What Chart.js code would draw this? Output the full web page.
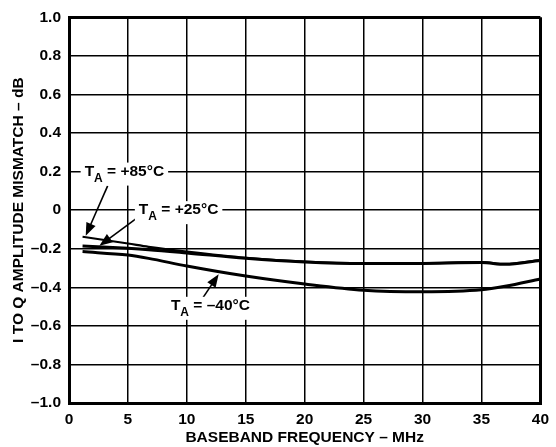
<!DOCTYPE html>
<html>
<head>
<meta charset="utf-8">
<script src="https://cdn.jsdelivr.net/npm/chart.js@4.4.0/dist/chart.umd.min.js"></script>
<style>
  html, body { margin: 0; padding: 0; background: #fff; }
  #wrap { width: 556px; height: 447px; }
</style>
</head>
<body>
<div id="wrap"><canvas id="chart" width="556" height="447"></canvas></div>
<script>
// frequency points (MHz)
const freq = [1.15, 5, 6.75, 10, 15, 20, 25, 30, 35, 37, 40];
// mismatch in dB for each temperature
const t85 = [-0.138, -0.173, -0.19, -0.215, -0.247, -0.267, -0.275, -0.275, -0.27, -0.279, -0.259];
const t25 = [-0.186, -0.198, -0.205, -0.222, -0.25, -0.269, -0.277, -0.276, -0.272, -0.281, -0.261];
const tm40 = [-0.215, -0.233, -0.25, -0.29, -0.342, -0.383, -0.415, -0.423, -0.413, -0.395, -0.357];

const xTicks = [0, 5, 10, 15, 20, 25, 30, 35, 40];
const yTicks = [-1.0, -0.8, -0.6, -0.4, -0.2, 0, 0.2, 0.4, 0.6, 0.8, 1.0];
const yTickLabels = ['\u20131.0', '\u20130.8', '\u20130.6', '\u20130.4', '\u20130.2', '0', '0.2', '0.4', '0.6', '0.8', '1.0'];

// annotation callouts: text spot and arrow (from -> to), all in data units
const callouts = [
  { temp: '+85\u00B0C', tx: 4.7, ty: 0.2, ax1: 3.28, ay1: 0.126, ax2: 1.42, ay2: -0.133 },
  { temp: '+25\u00B0C', tx: 9.3, ty: 0.0, ax1: 5.64, ay1: -0.047, ax2: 2.58, ay2: -0.185 },
  { temp: '\u201340\u00B0C', tx: 12.0, ty: -0.496, ax1: 11.3, ay1: -0.46, ax2: 12.7, ay2: -0.332 }
];

const FONT = '"Liberation Sans", Arial, Helvetica, sans-serif';

const toPoints = (ys) => freq.map((f, i) => ({ x: f, y: ys[i] }));

const lineSet = (label, ys, w) => ({
  label: label,
  data: toPoints(ys),
  borderColor: '#000',
  borderWidth: w,
  pointRadius: 0,
  fill: false,
  cubicInterpolationMode: 'monotone'
});

// draws the T_A labels and arrows
const calloutPlugin = {
  id: 'callouts',
  afterDatasetsDraw(chart) {
    const { ctx, scales } = chart;
    const xs = scales.x, ys = scales.y;
    ctx.save();
    callouts.forEach(c => {
      // arrow
      const x1 = xs.getPixelForValue(c.ax1), y1 = ys.getPixelForValue(c.ay1);
      const x2 = xs.getPixelForValue(c.ax2), y2 = ys.getPixelForValue(c.ay2);
      const ang = Math.atan2(y2 - y1, x2 - x1);
      const head = 13, hw = 5;
      ctx.strokeStyle = '#000';
      ctx.fillStyle = '#000';
      ctx.lineWidth = 1.6;
      ctx.beginPath();
      ctx.moveTo(x1, y1);
      ctx.lineTo(x2 - Math.cos(ang) * head * 0.8, y2 - Math.sin(ang) * head * 0.8);
      ctx.stroke();
      ctx.beginPath();
      ctx.moveTo(x2, y2);
      ctx.lineTo(x2 - Math.cos(ang) * head + Math.sin(ang) * hw, y2 - Math.sin(ang) * head - Math.cos(ang) * hw);
      ctx.lineTo(x2 - Math.cos(ang) * head - Math.sin(ang) * hw, y2 - Math.sin(ang) * head + Math.cos(ang) * hw);
      ctx.closePath();
      ctx.fill();

      // text with white box
      const cx = xs.getPixelForValue(c.tx), cy = ys.getPixelForValue(c.ty);
      const bigFont = 'bold 15.5px ' + FONT, subFont = 'bold 12px ' + FONT;
      const rest = ' = ' + c.temp;
      ctx.font = bigFont;
      const wT = ctx.measureText('T').width;
      const wRest = ctx.measureText(rest).width;
      ctx.font = subFont;
      const wA = ctx.measureText('A').width;
      const total = wT + wA + wRest;
      const left = cx - total / 2;
      ctx.fillStyle = '#fff';
      ctx.fillRect(left - 4, cy - 9, total + 8, 23);
      ctx.fillStyle = '#000';
      ctx.textBaseline = 'middle';
      ctx.textAlign = 'left';
      ctx.font = bigFont;
      ctx.fillText('T', left, cy);
      ctx.font = subFont;
      ctx.fillText('A', left + wT, cy + 7);
      ctx.font = bigFont;
      ctx.fillText(rest, left + wT + wA, cy);
    });
    ctx.restore();
  }
};

const edgeWidth = (vals) => (ctx) => {
  const v = ctx.tick ? ctx.tick.value : null;
  return (v === vals[0] || v === vals[vals.length - 1]) ? 3 : 1.5;
};

new Chart(document.getElementById('chart'), {
  type: 'line',
  data: {
    datasets: [
      lineSet('TA = +85°C', t85, 2.2),
      lineSet('TA = +25°C', t25, 3),
      lineSet('TA = –40°C', tm40, 3)
    ]
  },
  options: {
    responsive: false,
    animation: false,
    layout: { padding: { left: 0, right: 8, top: 17, bottom: 0 } },
    plugins: {
      legend: { display: false },
      tooltip: { enabled: false }
    },
    scales: {
      x: {
        type: 'linear',
        min: 0,
        max: 40,
        afterBuildTicks: (s) => { s.ticks = xTicks.map(v => ({ value: v })); },
        afterFit: (s) => { s.height = 44; },
        ticks: {
          color: '#000',
          padding: 7,
          font: { family: FONT, size: 15.5, weight: 'bold' },
          maxRotation: 0
        },
        grid: { color: '#000', lineWidth: edgeWidth(xTicks), drawTicks: false },
        border: { color: '#000', width: 3 },
        title: {
          display: true,
          text: 'BASEBAND FREQUENCY \u2013 MHz',
          color: '#000',
          padding: { top: 0, bottom: 0 },
          font: { family: FONT, size: 15.5, weight: 'bold' }
        }
      },
      y: {
        min: -1,
        max: 1,
        afterBuildTicks: (s) => { s.ticks = yTicks.map(v => ({ value: v })); },
        afterFit: (s) => { s.width = 69; },
        ticks: {
          color: '#000',
          padding: 8,
          font: { family: FONT, size: 15.5, weight: 'bold' },
          callback: (v, i) => yTickLabels[i]
        },
        grid: { color: '#000', lineWidth: edgeWidth(yTicks), drawTicks: false },
        border: { color: '#000', width: 3 },
        title: {
          display: true,
          text: 'I TO Q AMPLITUDE MISMATCH \u2013 dB',
          color: '#000',
          padding: { top: 9, bottom: 0 },
          font: { family: FONT, size: 15.5, weight: 'bold' }
        }
      }
    }
  },
  plugins: [calloutPlugin]
});
</script>
</body>
</html>
